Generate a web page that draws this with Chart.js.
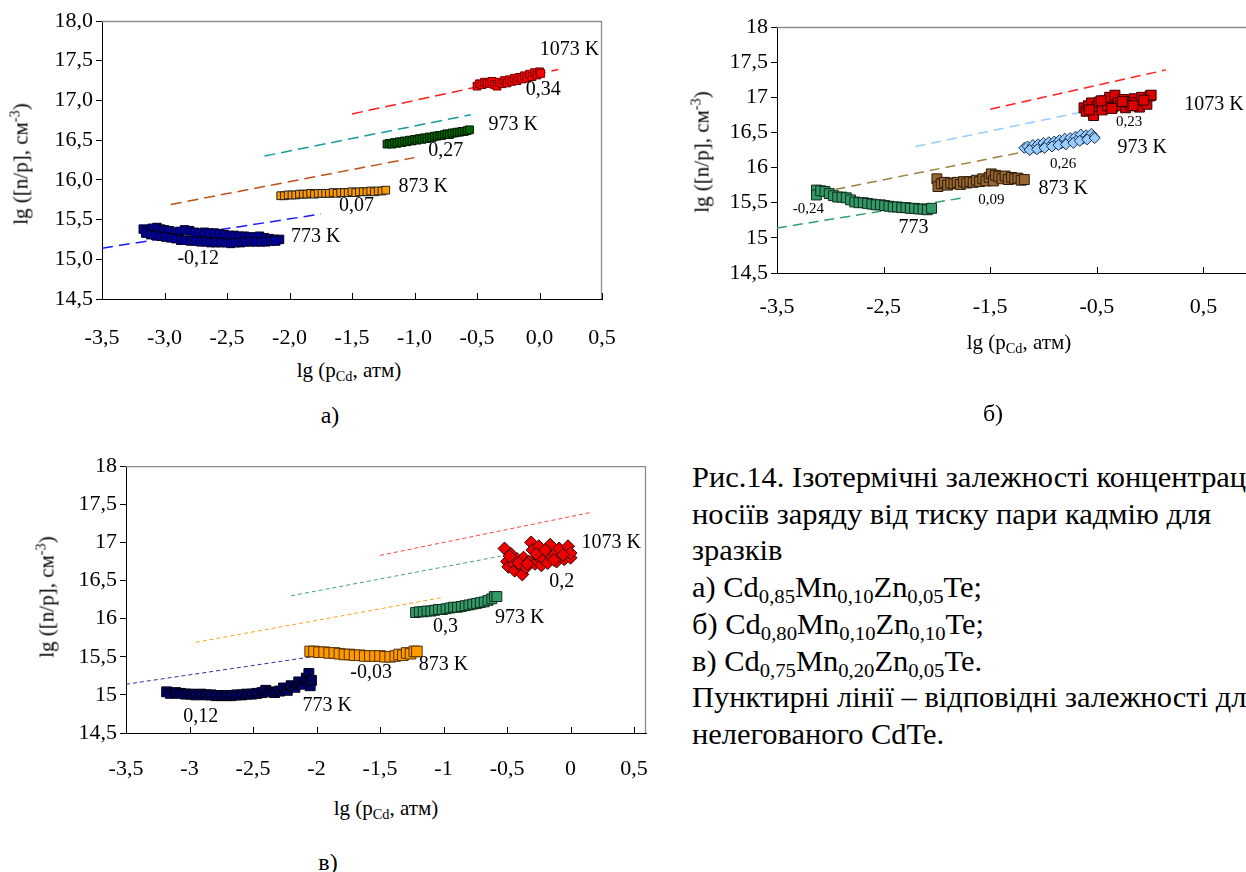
<!DOCTYPE html>
<html>
<head>
<meta charset="utf-8">
<script src="https://cdn.jsdelivr.net/npm/chart.js@4.4.0/dist/chart.umd.min.js"></script>
<style>
  body { margin: 0; background: #fff; font-family: "Liberation Serif", serif; color: #000; }
  #page { position: relative; width: 1246px; height: 872px; overflow: hidden; }
  canvas { position: absolute; }
  .t { position: absolute; white-space: nowrap; transform: translate(-50%, -50%); font-family: "Liberation Serif", serif; font-size: 21px; line-height: 1; }
  .t.v { transform: translate(-50%, -50%) rotate(-90deg); }
  .lab { position: absolute; transform: translate(-50%, -50%); font-family: "Liberation Serif", serif; font-size: 24px; line-height: 1; }
  sub { font-size: 0.68em; vertical-align: -0.3em; line-height: 0; }
  sup { font-size: 0.68em; vertical-align: 0.55em; line-height: 0; }
  .cap { position: absolute; left: 692px; top: 459px; font-family: "Liberation Serif", serif; font-size: 29px; line-height: 36.7px;
         white-space: nowrap; transform: scaleX(1.05); transform-origin: 0 0; }
</style>
</head>
<body>
<div id="page">
  <canvas id="chartA" width="640" height="350" style="left:0;top:0"></canvas>
  <canvas id="chartB" width="640" height="340" style="left:680px;top:0"></canvas>
  <canvas id="chartC" width="680" height="340" style="left:0;top:450px"></canvas>

  <div class="t v" style="left:21px;top:164px">lg ([n/p], см<sup>-3</sup>)</div>
  <div class="t" style="left:349px;top:370px">lg (p<sub>Cd</sub>, атм)</div>
  <div class="lab" style="left:330px;top:415px">а)</div>

  <div class="t v" style="left:702px;top:152px">lg ([n/p], см<sup>-3</sup>)</div>
  <div class="t" style="left:1019px;top:342px">lg (p<sub>Cd</sub>, атм)</div>
  <div class="lab" style="left:993px;top:413px">б)</div>

  <div class="t v" style="left:47px;top:597px">lg ([n/p], см<sup>-3</sup>)</div>
  <div class="t" style="left:386px;top:808px">lg (p<sub>Cd</sub>, атм)</div>
  <div class="lab" style="left:328px;top:862px">в)</div>

  <div class="cap">Рис.14. Ізотермічні залежності концентрації<br>
носіїв заряду від тиску пари кадмію для<br>
зразків<br>
а) Cd<sub>0,85</sub>Mn<sub>0,10</sub>Zn<sub>0,05</sub>Te;<br>
б) Cd<sub>0,80</sub>Mn<sub>0,10</sub>Zn<sub>0,10</sub>Te;<br>
в) Cd<sub>0,75</sub>Mn<sub>0,20</sub>Zn<sub>0,05</sub>Te.<br>
Пунктирні лінії – відповідні залежності для<br>
нелегованого CdTe.</div>
</div>
<script>
// ticks
const yTicks = [14.5, 15, 15.5, 16, 16.5, 17, 17.5, 18];
const xTicksA = [-3.5, -3, -2.5, -2, -1.5, -1, -0.5, 0, 0.5];
const xTicksB = [-3.5, -2.5, -1.5, -0.5, 0.5];
const xTicksC = [-3.5, -3, -2.5, -2, -1.5, -1, -0.5, 0, 0.5];

// undoped CdTe reference lines (same in all three panels)
const ref773x = [-3.5, -1.75],  ref773y = [15.14, 15.57];
const ref873x = [-2.95, -1.0],  ref873y = [15.69, 16.28];
const ref973x = [-2.2, -0.55],  ref973y = [16.30, 16.82];
const ref1073x = [-1.5, 0.15],  ref1073y = [16.83, 17.39];

// а) Cd0,85Mn0,10Zn0,05Te
const a773x = [-3.17,-3.14,-3.10,-3.06,-3.03,-3.00,-2.96,-2.92,-2.88,-2.84,-2.80,-2.76,-2.72,-2.68,-2.64,-2.60,-2.56,-2.52,-2.48,-2.44,-2.40,-2.36,-2.32,-2.28,-2.24,-2.20,-2.16,-2.12,-2.08,
  -3.15,-3.11,-3.07,-3.03,-2.99,-2.95,-2.91,-2.87,-2.83,-2.79,-2.75,-2.71,-2.67,-2.63,-2.59,-2.55,-2.51,-2.47,-2.43,-2.39,-2.35,-2.31,-2.27,-2.23,-2.19,-2.15,-2.11];
const a773y = [15.38,15.36,15.39,15.40,15.38,15.37,15.36,15.34,15.35,15.37,15.36,15.34,15.33,15.34,15.33,15.33,15.32,15.31,15.30,15.30,15.29,15.29,15.28,15.28,15.29,15.27,15.26,15.25,15.25,
  15.33,15.31,15.30,15.29,15.28,15.27,15.26,15.24,15.24,15.23,15.23,15.22,15.22,15.21,15.21,15.21,15.21,15.20,15.21,15.21,15.22,15.22,15.22,15.22,15.22,15.23,15.23];
const a873x = [-2.07,-2.04,-2.01,-1.98,-1.95,-1.92,-1.89,-1.86,-1.83,-1.80,-1.77,-1.74,-1.71,-1.68,-1.65,-1.62,-1.59,-1.56,-1.53,-1.50,-1.47,-1.44,-1.41,-1.38,-1.35,-1.32,-1.29,-1.26,-1.23];
const a873y = [15.80,15.80,15.81,15.81,15.81,15.82,15.82,15.82,15.83,15.82,15.83,15.83,15.83,15.83,15.84,15.83,15.84,15.84,15.84,15.85,15.84,15.85,15.85,15.85,15.86,15.85,15.86,15.86,15.87];
const a973x = [-1.22,-1.20,-1.18,-1.16,-1.14,-1.12,-1.10,-1.08,-1.06,-1.04,-1.02,-1.00,-0.98,-0.96,-0.94,-0.92,-0.90,-0.88,-0.86,-0.84,-0.82,-0.80,-0.78,-0.76,-0.74,-0.72,-0.70,-0.68,-0.66,-0.64,-0.62,-0.60,-0.58,-0.56];
const a973y = [16.45,16.46,16.45,16.47,16.46,16.48,16.47,16.49,16.48,16.50,16.49,16.51,16.50,16.52,16.51,16.53,16.52,16.54,16.53,16.55,16.55,16.56,16.56,16.57,16.58,16.57,16.59,16.59,16.60,16.60,16.61,16.61,16.62,16.63];
const a1073x = [-0.50,-0.48,-0.46,-0.44,-0.42,-0.40,-0.38,-0.36,-0.34,-0.32,-0.30,-0.28,-0.26,-0.24,-0.22,-0.20,-0.18,-0.16,-0.14,-0.12,-0.10,-0.08,-0.06,-0.04,-0.02,0.00,0.01];
const a1073y = [17.18,17.21,17.20,17.23,17.22,17.21,17.24,17.20,17.18,17.23,17.21,17.25,17.22,17.26,17.24,17.28,17.25,17.29,17.27,17.31,17.28,17.33,17.30,17.35,17.32,17.36,17.34];

// б) Cd0,80Mn0,10Zn0,10Te
const b773x = [-3.13,-3.13,-3.09,-3.05,-3.01,-2.97,-2.93,-2.89,-2.85,-2.81,-2.77,-2.73,-2.69,-2.65,-2.61,-2.57,-2.53,-2.49,-2.45,-2.41,-2.37,-2.33,-2.29,-2.25,-2.21,-2.17,-2.13,-2.09,-2.05];
const b773y = [15.68,15.61,15.67,15.66,15.63,15.60,15.58,15.58,15.57,15.54,15.51,15.50,15.50,15.49,15.48,15.47,15.47,15.46,15.45,15.44,15.44,15.43,15.43,15.42,15.42,15.41,15.41,15.40,15.42];
const b873x = [-2.00,-1.99,-1.96,-1.93,-1.90,-1.87,-1.84,-1.81,-1.78,-1.75,-1.72,-1.69,-1.66,-1.63,-1.60,-1.57,-1.54,-1.51,-1.49,-1.47,-1.45,-1.42,-1.39,-1.36,-1.33,-1.30,-1.27,-1.24,-1.21,-1.18];
const b873y = [15.84,15.73,15.77,15.79,15.75,15.78,15.77,15.79,15.76,15.80,15.78,15.80,15.79,15.82,15.80,15.84,15.81,15.86,15.91,15.81,15.89,15.87,15.84,15.88,15.83,15.86,15.84,15.85,15.82,15.83];
const b973x = [-1.18,-1.15,-1.12,-1.10,-1.08,-1.05,-1.03,-1.00,-0.98,-0.95,-0.93,-0.90,-0.88,-0.85,-0.83,-0.80,-0.78,-0.75,-0.73,-0.70,-0.68,-0.65,-0.63,-0.60,-0.58,-0.55,-0.53,
  -1.13,-1.06,-0.99,-0.92,-0.86,-0.79,-0.72,-0.66,-0.59,-0.52];
const b973y = [16.28,16.30,16.27,16.32,16.28,16.33,16.29,16.35,16.31,16.36,16.32,16.37,16.34,16.39,16.35,16.41,16.36,16.42,16.38,16.44,16.40,16.47,16.41,16.46,16.43,16.48,16.44,
  16.25,16.26,16.28,16.30,16.32,16.33,16.35,16.38,16.40,16.42];
const b1073x = [-0.62,-0.60,-0.58,-0.55,-0.53,-0.50,-0.48,-0.45,-0.43,-0.40,-0.38,-0.35,-0.33,-0.30,-0.28,-0.25,-0.23,-0.20,-0.18,-0.15,-0.13,-0.10,-0.08,-0.05,-0.03,0.00,0.01,
  -0.57,-0.46,-0.36,-0.26,-0.16,-0.06];
const b1073y = [16.85,16.80,16.88,16.92,16.74,16.87,16.93,16.82,16.95,16.88,17.00,16.86,17.03,16.92,16.88,16.97,16.85,16.93,16.88,16.98,16.92,16.86,17.00,16.95,16.90,17.02,17.03,
  16.82,16.95,16.84,16.94,16.88,16.96];

// в) Cd0,75Mn0,20Zn0,05Te
const c773x = [-3.18,-3.15,-3.11,-3.07,-3.03,-2.99,-2.95,-2.91,-2.87,-2.83,-2.79,-2.75,-2.71,-2.67,-2.63,-2.59,-2.55,-2.51,-2.47,-2.43,-2.40,-2.37,-2.33,-2.29,-2.26,-2.23,-2.20,-2.17,-2.14,-2.11,-2.08,-2.06,-2.05,-2.04];
const c773y = [15.04,15.02,15.03,15.02,15.01,15.01,15.00,15.01,15.00,15.00,14.99,14.99,14.99,14.99,15.00,15.00,15.01,15.01,15.02,15.03,15.06,15.04,15.03,15.05,15.09,15.06,15.12,15.10,15.17,15.14,15.22,15.28,15.12,15.19];
const c873x = [-2.05,-2.02,-1.98,-1.94,-1.90,-1.86,-1.82,-1.78,-1.74,-1.70,-1.66,-1.62,-1.58,-1.54,-1.50,-1.46,-1.42,-1.38,-1.35,-1.32,-1.29,-1.26,-1.23,-1.21];
const c873y = [15.57,15.57,15.56,15.56,15.55,15.55,15.54,15.53,15.53,15.52,15.52,15.51,15.51,15.51,15.51,15.50,15.50,15.51,15.53,15.52,15.55,15.54,15.57,15.57];
const c973x = [-1.22,-1.19,-1.16,-1.13,-1.10,-1.07,-1.04,-1.01,-0.98,-0.95,-0.92,-0.89,-0.86,-0.83,-0.80,-0.77,-0.74,-0.71,-0.68,-0.65,-0.62,-0.60,-0.58];
const c973y = [16.08,16.09,16.09,16.10,16.10,16.11,16.12,16.12,16.13,16.14,16.15,16.15,16.16,16.17,16.18,16.19,16.20,16.21,16.22,16.24,16.26,16.29,16.29];
const c1073x = [-0.52,-0.50,-0.49,-0.47,-0.45,-0.44,-0.42,-0.40,-0.38,-0.37,-0.35,-0.33,-0.31,-0.30,-0.28,-0.26,-0.25,-0.23,-0.21,-0.19,
  -0.18,-0.16,-0.14,-0.12,-0.11,-0.09,-0.07,-0.05,-0.03,-0.02,0.00,0.00,-0.48,-0.41,-0.34,-0.27,-0.20,-0.13,-0.06];
const c1073y = [16.92,16.75,16.68,16.85,16.72,16.63,16.78,16.70,16.58,16.80,16.67,16.75,17.00,16.90,16.72,16.82,16.95,16.70,16.78,16.88,
  16.73,16.97,16.80,16.85,16.75,16.92,16.82,16.78,16.88,16.95,16.80,16.86,16.82,16.73,16.72,16.85,16.90,16.77,16.84];

// text notes on the plots (anchored in data units)
const notesA = ['1073 K', '0,34', '973 K', '0,27', '873 K', '0,07', '773 K', '-0,12'];
const notesAx = [0.24, 0.03, -0.21, -0.75, -0.93, -1.465, -1.79, -2.73];
const notesAy = [17.64, 17.14, 16.69, 16.37, 15.91, 15.68, 15.28, 15.01];
const notesB = ['1073 K', '0,23', '973 K', '0,26', '873 K', '0,09', '773', '-0,24'];
const notesBx = [0.60, -0.196, -0.075, -0.815, -0.815, -1.49, -2.22, -3.206];
const notesBy = [16.89, 16.65, 16.28, 16.05, 15.70, 15.54, 15.14, 15.41];
const notesC = ['1073 K', '0,2', '973 K', '0,3', '873 K', '-0,03', '773 K', '0,12'];
const notesCx = [0.32, -0.07, -0.40, -0.985, -1.0, -1.57, -1.916, -2.912];
const notesCy = [16.99, 16.48, 16.01, 15.89, 15.40, 15.29, 14.86, 14.715];

const SERIF = 'Liberation Serif';
Chart.defaults.font.family = SERIF;
Chart.defaults.color = '#000';

const pts = (xs, ys) => xs.map((x, i) => ({ x: x, y: ys[i] }));
const fmt1 = v => v.toFixed(1).replace('.', ',');
const fmtG = v => String(v).replace('.', ',');

// grey plot frame (top/right), inward x ticks, text notes
const frame = {
  id: 'frame',
  afterDatasetsDraw(chart, args, opts) {
    const a = chart.chartArea, ctx = chart.ctx;
    ctx.save();
    ctx.strokeStyle = '#8c8c8c';
    ctx.lineWidth = 1.3;
    ctx.beginPath();
    ctx.moveTo(a.left, a.top + 0.5);
    ctx.lineTo(a.right - 0.5, a.top + 0.5);
    ctx.lineTo(a.right - 0.5, a.bottom);
    ctx.stroke();
    const xs = chart.scales.x;
    ctx.strokeStyle = '#000';
    ctx.lineWidth = 1;
    xs.ticks.forEach(t => {
      const px = Math.round(xs.getPixelForValue(t.value)) + 0.5;
      ctx.beginPath();
      ctx.moveTo(px, a.bottom);
      ctx.lineTo(px, a.bottom - 6);
      ctx.stroke();
    });
    const ys = chart.scales.y;
    ctx.fillStyle = '#000';
    ctx.textAlign = 'center';
    ctx.textBaseline = 'middle';
    opts.text.forEach((s, i) => {
      const small = opts.small && /^-?0,/.test(s);
      ctx.font = (small ? opts.small : opts.size) + 'px "' + SERIF + '"';
      ctx.fillText(s, xs.getPixelForValue(opts.x[i]), ys.getPixelForValue(opts.y[i]));
    });
    ctx.restore();
  }
};

function scales(o) {
  return {
    x: {
      type: 'linear', min: o.xmin, max: o.xmax,
      afterBuildTicks: s => { s.ticks = o.xt.map(v => ({ value: v })); },
      afterFit: s => { s.height = o.xh; },
      grid: { display: false },
      border: { display: true, color: '#000', width: 1 },
      ticks: { autoSkip: false, maxRotation: 0, padding: o.xpad, color: '#000',
        font: { family: SERIF, size: o.fs }, callback: o.xf }
    },
    y: {
      type: 'linear', min: 14.5, max: 18,
      afterBuildTicks: s => { s.ticks = yTicks.map(v => ({ value: v })); },
      afterFit: s => { s.width = o.yw; },
      grid: { display: true, drawOnChartArea: false, drawTicks: true, tickLength: 6, color: '#000' },
      border: { display: true, color: '#000', width: 1 },
      ticks: { padding: 3, color: '#000', font: { family: SERIF, size: o.fs }, callback: o.yf }
    }
  };
}

function refLine(xs, ys, color, width, dash) {
  return { data: pts(xs, ys), showLine: true, borderColor: color, borderWidth: width,
    borderDash: dash, pointRadius: 0, fill: false };
}
function marks(xs, ys, style, r, fill, edge) {
  return { data: pts(xs, ys), pointStyle: style, pointRadius: r, pointBackgroundColor: fill,
    pointBorderColor: edge, pointBorderWidth: 1, showLine: false };
}

function build(id, datasets, sc, pad, notes) {
  new Chart(document.getElementById(id), {
    type: 'scatter',
    data: { datasets: datasets },
    options: {
      responsive: false, animation: false,
      layout: { padding: pad },
      plugins: { legend: { display: false }, tooltip: { enabled: false }, frame: notes },
      scales: sc
    },
    plugins: [frame]
  });
}

// а)
build('chartA', [
  marks(a1073x, a1073y, 'rect', 5.5, '#ff0000', '#700000'),
  marks(a973x, a973y, 'rect', 5.5, '#006600', '#001a00'),
  marks(a873x, a873y, 'rect', 5.5, '#ff9900', '#222'),
  marks(a773x, a773y, 'rect', 6, '#000099', '#000022'),
  refLine(ref1073x, ref1073y, '#ff1a1a', 1.5, [11, 6]),
  refLine(ref973x, ref973y, '#1a9a9a', 1.5, [11, 6]),
  refLine(ref873x, ref873y, '#c0501a', 1.5, [11, 6]),
  refLine(ref773x, ref773y, '#1a1aff', 1.5, [11, 6])
], scales({ xmin: -3.5, xmax: 0.5, xt: xTicksA, xh: 51, xpad: 18, fs: 22, yw: 102, xf: fmt1, yf: fmt1 }),
  { left: 0, right: 38, top: 21, bottom: 0 },
  { text: notesA, x: notesAx, y: notesAy, size: 20 });

// б)
build('chartB', [
  marks(b1073x, b1073y, 'rect', 7, '#dd0000', '#300000'),
  marks(b973x, b973y, 'rectRot', 5.5, '#99ccff', '#1a3350'),
  marks(b873x, b873y, 'rect', 7, '#996633', '#2a1a05'),
  marks(b773x, b773y, 'rect', 7, '#339966', '#0f2a1c'),
  refLine(ref1073x, ref1073y, '#ff2020', 1.5, [10, 6]),
  refLine(ref973x, ref973y, '#99ccff', 1.5, [10, 6]),
  refLine(ref873x, ref873y, '#a08040', 1.5, [10, 6]),
  refLine(ref773x, ref773y, '#30a070', 1.5, [10, 6])
], scales({ xmin: -3.5, xmax: 1.5, xt: xTicksB, xh: 67, xpad: 13, fs: 22, yw: 97, xf: fmtG, yf: fmtG }),
  { left: 0, right: 10, top: 27, bottom: 0 },
  { text: notesB, x: notesBx, y: notesBy, size: 20, small: 15 });

// в)
build('chartC', [
  marks(c1073x, c1073y, 'rectRot', 6.5, '#ee0000', '#300000'),
  marks(c973x, c973y, 'rect', 7, '#339966', '#0f2a1c'),
  marks(c873x, c873y, 'rect', 7.5, '#ff9900', '#553300'),
  marks(c773x, c773y, 'crossRot', 6, '#000', '#000'),
  marks(c773x, c773y, 'rect', 7, '#000080', '#000010'),
  refLine(ref1073x, ref1073y, '#ff4040', 1, [4, 3]),
  refLine(ref973x, ref973y, '#40a080', 1, [4, 3]),
  refLine(ref873x, ref873y, '#ffa020', 1, [4, 3]),
  refLine(ref773x, ref773y, '#3030a0', 1, [4, 3])
], scales({ xmin: -3.5, xmax: 0.594, xt: xTicksC, xh: 57, xpad: 15, fs: 22, yw: 126, xf: fmtG, yf: fmtG }),
  { left: 0, right: 34, top: 16, bottom: 0 },
  { text: notesC, x: notesCx, y: notesCy, size: 20 });
</script>
</body>
</html>
